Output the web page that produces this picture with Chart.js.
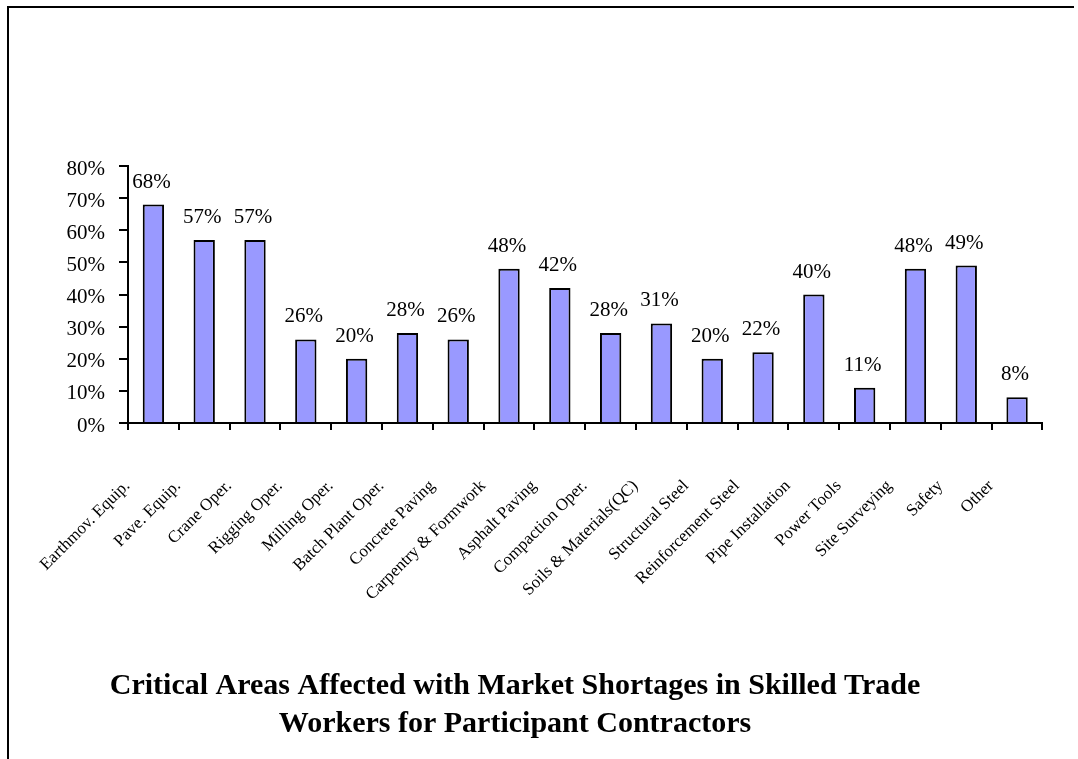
<!DOCTYPE html>
<html>
<head>
<meta charset="utf-8">
<script src="https://cdn.jsdelivr.net/npm/chart.js@4.4.1/dist/chart.umd.min.js"></script>
<style>
  body { margin: 0; background: #fff; }
  #wrap { position: relative; width: 1078px; height: 759px; overflow: hidden; }
  #frameTop { position: absolute; left: 7px; top: 6px; width: 1067px; height: 2px; background: #000; }
  #frameLeft { position: absolute; left: 7px; top: 6px; width: 2px; height: 753px; background: #000; }
</style>
</head>
<body>
<div id="wrap">
  <canvas id="shortageChart" width="1078" height="759"></canvas>
  <div id="frameTop"></div>
  <div id="frameLeft"></div>
</div>
<script>
// Données du graphique
const categories = [
  'Earthmov. Equip.', 'Pave. Equip.', 'Crane Oper.', 'Rigging Oper.', 'Milling Oper.',
  'Batch Plant Oper.', 'Concrete Paving', 'Carpentry & Formwork', 'Asphalt Paving',
  'Compaction Oper.', 'Soils & Materials(QC)', 'Structural Steel', 'Reinforcement Steel',
  'Pipe Installation', 'Power Tools', 'Site Surveying', 'Safety', 'Other'
];
const shortagePercent = [68, 57, 57, 26, 20, 28, 26, 48, 42, 28, 31, 20, 22, 40, 11, 48, 49, 8];
const yTicks = [0, 10, 20, 30, 40, 50, 60, 70, 80];
const titleLines = [
  'Critical Areas Affected with Market Shortages in Skilled Trade',
  'Workers for Participant Contractors'
];

const serif = "'Liberation Serif', 'Times New Roman', serif";
Chart.defaults.font.family = serif;
Chart.defaults.color = '#000';

// Étiquettes de valeur au-dessus des barres
const valueLabels = {
  id: 'valueLabels',
  afterDatasetsDraw(chart) {
    const ctx = chart.ctx;
    const meta = chart.getDatasetMeta(0);
    ctx.save();
    ctx.font = '21px ' + serif;
    ctx.fillStyle = '#000';
    ctx.textAlign = 'center';
    ctx.textBaseline = 'alphabetic';
    meta.data.forEach((bar, i) => {
      ctx.fillText(shortagePercent[i] + '%', bar.x - 2, bar.y - 17);
    });
    ctx.restore();
  }
};

// Titre sur deux lignes, sous l'axe
const bottomTitle = {
  id: 'bottomTitle',
  afterDraw(chart) {
    const ctx = chart.ctx;
    ctx.save();
    ctx.font = 'bold 30px ' + serif;
    ctx.fillStyle = '#000';
    ctx.textAlign = 'center';
    ctx.textBaseline = 'alphabetic';
    ctx.fillText(titleLines[0], 515, 694);
    ctx.fillText(titleLines[1], 515, 732);
    ctx.restore();
  }
};

const ctxBar = document.getElementById('shortageChart').getContext('2d');

const shortageChart = new Chart(ctxBar, {
  type: 'bar',
  data: {
    labels: categories,
    datasets: [{
      data: shortagePercent,
      backgroundColor: '#9999FF',
      borderColor: '#000',
      borderWidth: 2,
      barPercentage: 0.42,
      categoryPercentage: 1.0
    }]
  },
  options: {
    responsive: false,
    animation: false,
    layout: {
      padding: { left: 8, right: 18, top: 166, bottom: 136 }
    },
    plugins: {
      legend: { display: false },
      tooltip: { enabled: false },
      title: { display: false }
    },
    scales: {
      x: {
        afterFit: (scale) => { scale.height = 200; },
        grid: {
          offset: true,
          drawOnChartArea: false,
          drawTicks: true,
          tickLength: 7,
          color: '#000',
          lineWidth: 2
        },
        border: { display: true, color: '#000', width: 2 },
        ticks: {
          autoSkip: false,
          minRotation: 45,
          maxRotation: 45,
          padding: 46,
          labelOffset: -26,
          font: { size: 17 },
          color: '#000'
        }
      },
      y: {
        min: yTicks[0],
        max: yTicks[yTicks.length - 1],
        afterFit: (scale) => { scale.width = 120; },
        grid: {
          drawOnChartArea: false,
          drawTicks: true,
          tickLength: 9,
          color: '#000',
          lineWidth: 2
        },
        border: { display: true, color: '#000', width: 2 },
        ticks: {
          stepSize: 10,
          padding: 14,
          labelOffset: 3,
          font: { size: 21 },
          color: '#000',
          callback: (value) => value + '%'
        }
      }
    }
  },
  plugins: [valueLabels, bottomTitle]
});
</script>
</body>
</html>
